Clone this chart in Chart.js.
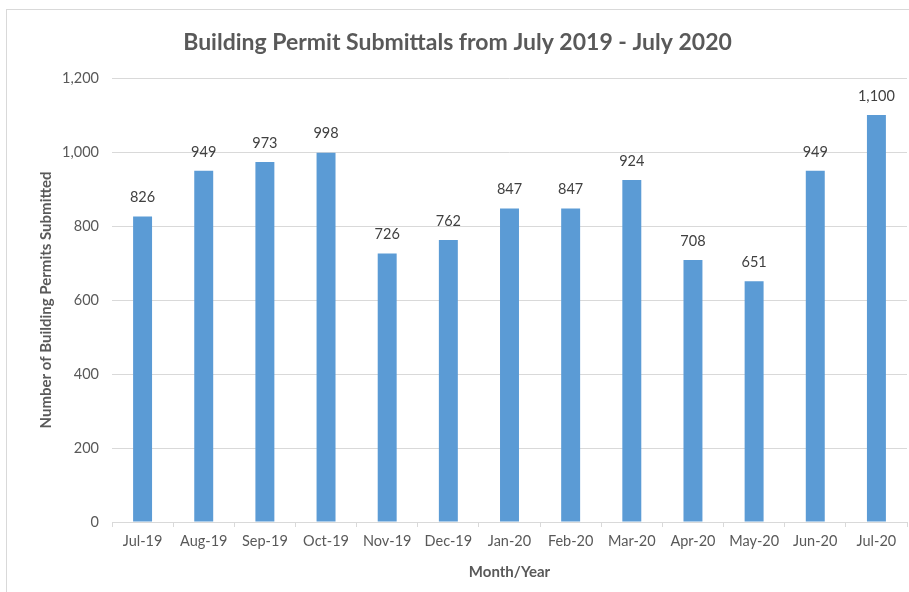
<!DOCTYPE html>
<html>
<head>
<meta charset="utf-8">
<script src="https://cdn.jsdelivr.net/npm/chart.js@4/dist/chart.umd.min.js"></script>
<style>
  html, body { margin: 0; padding: 0; background: #fff; }
  #frame {
    position: absolute; left: 6px; top: 9px;
    width: 910px; height: 600px;
    border: 1px solid #d9d9d9;
    box-sizing: border-box;
  }
  #wrap { position: absolute; left: 1px; top: 1px; width: 902px; height: 582px; }
</style>
</head>
<body>
<div id="frame"><div id="wrap"><canvas id="permit-chart" width="902" height="582"></canvas></div></div>
<script>
  // données du graphique
  const months = ['Jul-19', 'Aug-19', 'Sep-19', 'Oct-19', 'Nov-19', 'Dec-19',
    'Jan-20', 'Feb-20', 'Mar-20', 'Apr-20', 'May-20', 'Jun-20', 'Jul-20'];
  const permits = [826, 949, 973, 998, 726, 762, 847, 847, 924, 708, 651, 949, 1100];
  const yTicks = [0, 200, 400, 600, 800, 1000, 1200];

  const FONT = 'Lato, "Open Sans", sans-serif';
  const GREY = '#595959';

  // étiquettes de valeur au-dessus des barres
  const barLabels = {
    id: 'barLabels',
    afterDatasetsDraw(chart) {
      const ctx = chart.ctx;
      const meta = chart.getDatasetMeta(0);
      ctx.save();
      ctx.font = '14.5px ' + FONT;
      ctx.fillStyle = '#404040';
      ctx.textAlign = 'center';
      ctx.textBaseline = 'middle';
      meta.data.forEach((bar, i) => {
        ctx.fillText(permits[i].toLocaleString('en-US'), bar.x, bar.y - 19);
      });
      ctx.restore();
    }
  };

  const ctx = document.getElementById('permit-chart');
  new Chart(ctx, {
    type: 'bar',
    data: {
      labels: months,
      datasets: [{
        label: 'Permits',
        data: permits,
        backgroundColor: '#5B9BD5',
        borderWidth: 0,
        barPercentage: 0.31,
        categoryPercentage: 1
      }]
    },
    options: {
      responsive: false,
      animation: false,
      layout: { padding: { left: 0, right: 3, top: 0, bottom: 0 } },
      plugins: {
        legend: { display: false },
        tooltip: { enabled: false },
        title: {
          display: true,
          text: 'Building Permit Submittals from July 2019 - July 2020',
          color: GREY,
          font: { family: FONT, size: 23, weight: 'bold' },
          padding: { top: 18, bottom: 21.4 }
        }
      },
      scales: {
        x: {
          grid: { drawOnChartArea: false, drawTicks: true, tickLength: 5, color: '#d9d9d9' },
          border: { color: '#d9d9d9' },
          ticks: { color: GREY, font: { family: FONT, size: 14.5 }, padding: 6, maxRotation: 0 },
          title: {
            display: true, text: 'Month/Year', color: GREY,
            font: { family: FONT, size: 15, weight: 'bold' },
            padding: { top: 0, bottom: 12 }
          },
          afterFit(scale) { scale.height = 71; }
        },
        y: {
          min: 0,
          max: 1200,
          afterBuildTicks(scale) { scale.ticks = yTicks.map(v => ({ value: v })); },
          grid: { color: '#d9d9d9', drawTicks: false },
          border: { display: false },
          ticks: {
            color: GREY, font: { family: FONT, size: 14.5 }, padding: 13,
            callback: v => v.toLocaleString('en-US')
          },
          title: {
            display: true, text: 'Number of Building Permits Submitted', color: GREY,
            font: { family: FONT, size: 15, weight: 'bold' },
            padding: { top: 29, bottom: 0 }
          },
          afterFit(scale) { scale.width = 104; }
        }
      }
    },
    plugins: [barLabels]
  });
</script>
</body>
</html>
